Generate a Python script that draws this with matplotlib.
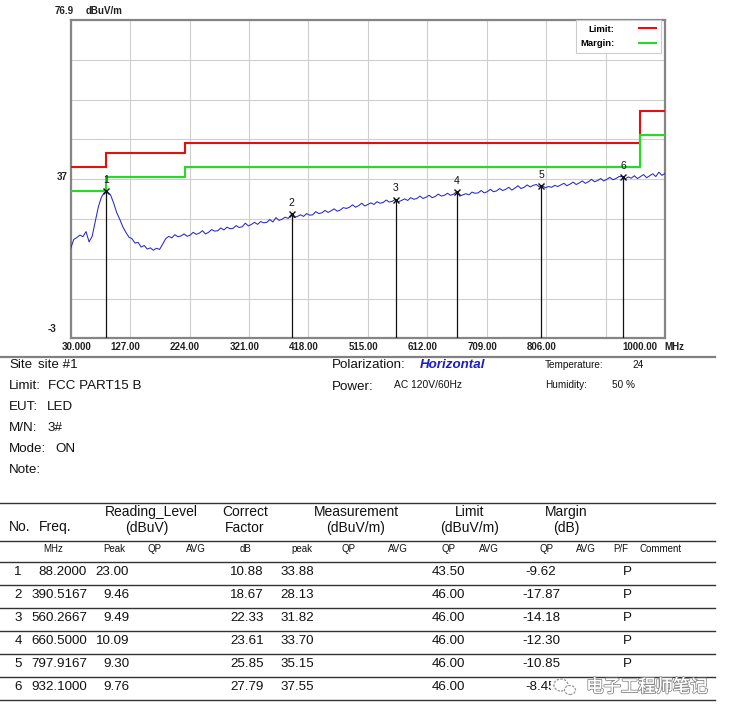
import numpy as np
import matplotlib
matplotlib.use('Agg')
import matplotlib.pyplot as plt
from matplotlib.lines import Line2D
from matplotlib.patches import Ellipse, Rectangle
import matplotlib.patheffects as pe
import matplotlib.transforms as mtransforms

plt.rcParams['font.family'] = ['Liberation Sans', 'DejaVu Sans']

# ---------------- data ----------------
trace_freq = np.arange(30, 1001, 5)
trace_level = [
    19.6, 21.8, 22.3, 22.9, 22.5, 23.8, 21.2, 22.6, 26.2, 29.9,
    32.4, 33.6, 33.7, 33.0, 31.0, 28.6, 26.9, 25.0, 23.6, 22.4,
    22.0, 20.9, 21.1, 19.9, 20.3, 19.4, 19.7, 19.1, 19.6, 19.3,
    20.6, 22.0, 22.6, 22.2, 23.0, 22.5, 22.7, 23.2, 22.6, 22.9,
    23.6, 23.1, 23.4, 24.0, 23.2, 23.6, 24.3, 23.9, 24.0, 24.7,
    24.2, 24.9, 24.5, 24.6, 25.3, 24.8, 25.0, 25.9, 25.2, 25.6,
    26.1, 25.6, 26.3, 26.0, 26.1, 26.8, 26.2, 27.3, 26.6, 26.9,
    27.4, 27.1, 28.1, 27.3, 27.6, 28.0, 27.6, 28.3, 27.9, 28.0,
    28.8, 28.3, 28.5, 29.1, 28.6, 29.0, 29.5, 28.9, 29.2, 29.8,
    29.6, 29.9, 30.5, 29.9, 30.3, 30.9, 30.2, 30.6, 31.0, 30.6,
    31.3, 30.9, 31.1, 31.7, 31.2, 31.4, 31.9, 31.3, 31.6, 32.0,
    31.6, 32.3, 31.9, 32.1, 32.7, 32.1, 32.4, 32.9, 32.3, 32.6,
    33.2, 32.7, 32.9, 33.4, 32.9, 33.2, 33.8, 32.7, 33.0, 33.3,
    33.0, 33.7, 33.4, 33.5, 34.1, 33.5, 33.8, 34.4, 33.8, 34.0,
    34.6, 34.1, 34.4, 34.9, 34.2, 34.7, 35.3, 34.6, 34.9, 35.5,
    35.0, 35.4, 35.6, 35.0, 35.3, 34.8, 35.1, 34.9, 35.4, 35.1,
    35.5, 35.9, 35.3, 35.7, 36.2, 35.6, 36.0, 36.5, 35.9, 36.3,
    36.9, 36.3, 36.6, 37.1, 36.5, 36.9, 37.4, 36.8, 37.1, 37.6,
    37.6, 37.0, 37.5, 37.2, 37.8, 37.1, 37.6, 38.1, 37.3, 37.8,
    38.3, 37.6, 38.7, 37.9, 38.4,
]

limit_edges = [30, 88, 216, 960, 1000]
limit_levels = [40.0, 43.5, 46.0, 54.0]
margin_levels = [34.0, 37.5, 40.0, 48.0]

marker_no = [1, 2, 3, 4, 5, 6]
marker_freq = [88.2000, 390.5167, 560.2667, 660.5000, 797.9167, 932.1000]
marker_peak = [23.00, 9.46, 9.49, 10.09, 9.30, 9.76]
marker_factor = [10.88, 18.67, 22.33, 23.61, 25.85, 27.79]
marker_meas = [33.88, 28.13, 31.82, 33.70, 35.15, 37.55]
marker_limit = [43.50, 46.00, 46.00, 46.00, 46.00, 46.00]
marker_margin = [-9.62, -17.87, -14.18, -12.30, -10.85, -8.45]
marker_pf = ['P', 'P', 'P', 'P', 'P', '']   # last one hidden under the watermark

x_ticks = [30, 127, 224, 321, 418, 515, 612, 709, 806, 903, 1000]
x_tick_labels = ['30.000', '127.00', '224.00', '321.00', '418.00', '515.00',
                 '612.00', '709.00', '806.00', '', '1000.00']
y_min, y_max = -3.0, 76.9

info_left = [('Site', 'site #1'), ('Limit:', 'FCC PART15 B'), ('EUT:', 'LED'),
             ('M/N:', '3#'), ('Mode:', 'ON'), ('Note:', '')]

# ---------------- figure ----------------
W, H = 733, 716
fig = plt.figure(figsize=(W / 100, H / 100), dpi=100)
fig.patch.set_facecolor('white')

def fx(x):
    return x / W

def fy(y):
    return 1 - y / H

def ftext(x, y, s, **kw):
    kw.setdefault('va', 'center')
    return fig.text(fx(x), fy(y), s, **kw)

def hline(x0, x1, y, **kw):
    fig.add_artist(Line2D([fx(x0), fx(x1)], [fy(y), fy(y)], **kw))

ax_l, ax_r, ax_t, ax_b = 70.7, 665.0, 20.0, 338.3
ax = fig.add_axes([fx(ax_l), fy(ax_b), (ax_r - ax_l) / W, (ax_b - ax_t) / H])
ax.set_xlim(30, 1000)
ax.set_ylim(y_min, y_max)
ax.set_yticks(np.linspace(y_min, y_max, 9))
ax.set_yticklabels([])
ax.set_xticks(x_ticks)
ax.set_xticklabels(x_tick_labels, fontsize=7, fontweight='bold', color='#202020')
ax.tick_params(length=0, pad=2.5)
ax.grid(True, color='#cfcfcf', lw=0.8)
ax.set_axisbelow(True)
for sp in ax.spines.values():
    sp.set_color('#858585')
    sp.set_linewidth(1.6)

shifts_px = [6.3] + [-4.5] * 9 + [-25.5]
for lab, dx in zip(ax.get_xticklabels(), shifts_px):
    lab.set_transform(lab.get_transform() + mtransforms.ScaledTranslation(dx / 100, 0, fig.dpi_scale_trans))

# limit and margin steps
ax.stairs(limit_levels, limit_edges, baseline=None, color='#e31010', lw=1.5, zorder=3, label='Limit:')
ax.stairs(margin_levels, limit_edges, baseline=None, color='#22dd22', lw=1.5, zorder=3, label='Margin:')

# trace
ax.plot(trace_freq, trace_level, color='#2828c8', lw=0.75, zorder=4)

# markers
for n, f, m in zip(marker_no, marker_freq, marker_meas):
    ax.vlines(f, y_min, m, color='#111111', lw=0.9, zorder=5)
    ax.plot(f, m, 'x', ms=5, mew=1.0, color='#111111', zorder=6)
    ax.annotate(str(n), (f, m), xytext=(0, 8), textcoords='offset points',
                ha='center', va='center', fontsize=7.5, color='#111111', zorder=6)

leg = ax.legend(loc='upper right', bbox_to_anchor=(0.993, 1.0), borderaxespad=0,
                markerfirst=False, fancybox=False, framealpha=1, edgecolor='#cccccc',
                prop={'size': 6.8, 'weight': 'bold'}, handlelength=1.8, handletextpad=2.6,
                borderpad=0.5, labelspacing=0.6)
leg.get_frame().set_linewidth(0.8)

# axis texts
ftext(64, 11.5, '76.9', ha='center', fontsize=7, fontweight='bold', color='#202020')
ftext(104.5, 11.5, 'dBuV/m', ha='center', fontsize=7, fontweight='bold', color='#202020')
ftext(62, 176.5, '37', ha='center', fontsize=7, fontweight='bold', color='#202020')
ftext(52.5, 329, '-3', ha='center', fontsize=7, fontweight='bold', color='#202020')
ftext(674, 346.5, 'MHz', ha='center', fontsize=7, fontweight='bold', color='#202020')

# separator
hline(0, 715, 356.5, color='#808080', lw=1.6)

# info section
info_val_x = [38, 48, 47, 47, 55, 0]
for i, ((k, v), vx) in enumerate(zip(info_left, info_val_x)):
    y = 365 + 21 * i
    ftext(9, y, k, fontsize=9.6, color='#111111')
    if v:
        ftext(vx, y, v, fontsize=9.6, color='#111111')

ftext(332, 365.5, 'Polarization:', fontsize=9.6, color='#111111')
ftext(420, 365.5, 'Horizontal', fontsize=9.6, color='#1c1cc8', fontweight='bold', style='italic')
ftext(332, 386.5, 'Power:', fontsize=9.6, color='#111111')
ftext(394, 384.5, 'AC 120V/60Hz', fontsize=7.4, color='#111111')
ftext(545, 364.5, 'Temperature:', fontsize=7.2, color='#111111')
ftext(632, 364.5, '24', fontsize=7.2, color='#111111')
ftext(545, 385.5, 'Humidity:', fontsize=7.2, color='#111111')
ftext(612, 385.5, '50 %', fontsize=7.2, color='#111111')

# table
for y in [503, 541, 562, 585, 608, 631, 654, 677, 700]:
    hline(0, 715, y, color='#333333', lw=1.0)

hs = 10
ftext(9, 527, 'No.', fontsize=hs, color='#111111')
ftext(39, 527, 'Freq.', fontsize=hs, color='#111111')
for cx, top, bot in [(151, 'Reading_Level', '(dBuV)'), (245, 'Correct', 'Factor'),
                     (356, 'Measurement', '(dBuV/m)'), (470, 'Limit', '(dBuV/m)'),
                     (566, 'Margin', '(dB)')]:
    ftext(cx, 512, top, ha='center', fontsize=hs, color='#111111')
    ftext(cx - (4 if cx == 151 else 0), 528, bot, ha='center', fontsize=hs, color='#111111')

for cx, s in [(53, 'MHz'), (114, 'Peak'), (154, 'QP'), (196, 'AVG'), (245, 'dB'),
              (302, 'peak'), (348, 'QP'), (398, 'AVG'), (448, 'QP'), (489, 'AVG'),
              (546, 'QP'), (586, 'AVG'), (621, 'P/F'), (661, 'Comment')]:
    ftext(cx, 548.5, s, ha='center', fontsize=7, color='#111111')

rs = 9.6
for i in range(len(marker_no)):
    y = 572 + 23 * i
    ftext(18, y, str(marker_no[i]), ha='center', fontsize=rs, color='#111111')
    ftext(87, y, f'{marker_freq[i]:.4f}', ha='right', fontsize=rs, color='#111111')
    ftext(129, y, f'{marker_peak[i]:.2f}', ha='right', fontsize=rs, color='#111111')
    ftext(264, y, f'{marker_factor[i]:.2f}', ha='right', fontsize=rs, color='#111111')
    ftext(314, y, f'{marker_meas[i]:.2f}', ha='right', fontsize=rs, color='#111111')
    ftext(465, y, f'{marker_limit[i]:.2f}', ha='right', fontsize=rs, color='#111111')
    ftext(541, y, f'{marker_margin[i]:.2f}', ha='center', fontsize=rs, color='#111111')
    if marker_pf[i]:
        ftext(627, y, marker_pf[i], ha='center', fontsize=rs, color='#111111')

# watermark (white patch, outlined WeChat bubbles, hollow gray characters)
fig.add_artist(Rectangle((fx(551), fy(697)), 161 / W, 18 / H, transform=fig.transFigure,
                         facecolor='white', edgecolor='none', alpha=0.92, zorder=5))
for (ex, ey, ew, eh) in [(561, 685, 14, 12), (570, 690, 11, 9)]:
    fig.add_artist(Ellipse((fx(ex), fy(ey)), ew / W, eh / H, transform=fig.transFigure,
                           facecolor='white', edgecolor='#9a9a9a', lw=0.9, ls=(0, (2, 1)), zorder=6))
ftext(647, 687, '电子工程师笔记', ha='center', fontsize=12.5, color='white', zorder=7,
      family=['Noto Sans CJK SC', 'DejaVu Sans'],
      path_effects=[pe.withStroke(linewidth=1.4, foreground='#8c8c8c'), pe.Normal()])

fig.savefig('out.png', dpi=100, facecolor='white')
